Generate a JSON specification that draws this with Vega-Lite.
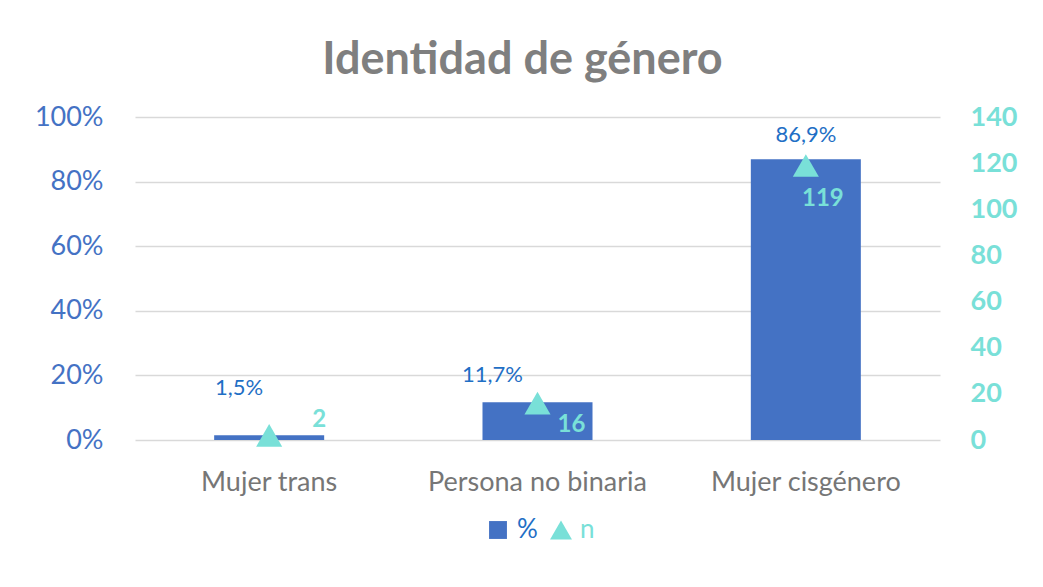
{
  "$schema": "https://vega.github.io/schema/vega-lite/v6.json",
  "width": 805,
  "height": 323,
  "autosize": {"type": "none"},
  "padding": {"left": 135, "top": 117, "right": 103, "bottom": 147},
  "background": "white",
  "title": {
    "text": "Identidad de género",
    "fontSize": 45,
    "font": "Lato",
    "fontWeight": "bold",
    "color": "#7F7F7F",
    "offset": 20,
    "dx": -15
  },
  "config": {
    "locale": {"number": {"decimal": ",", "thousands": ".", "grouping": [3], "currency": ["", " €"]}},
    "view": {"stroke": null},
    "font": "Lato"
  },
  "data": {
    "values": [
      {"cat": "Mujer trans", "pct": 0.015, "n": 2},
      {"cat": "Persona no binaria", "pct": 0.117, "n": 16},
      {"cat": "Mujer cisgénero", "pct": 0.869, "n": 119}
    ]
  },
  "encoding": {
    "x": {
      "field": "cat",
      "type": "nominal",
      "sort": null,
      "scale": {"paddingInner": 0.59, "paddingOuter": 0.295},
      "axis": {
        "title": null,
        "labelAngle": 0,
        "labelFontSize": 27,
        "labelColor": "#767676",
        "labelPadding": 29,
        "labelLimit": 400,
        "ticks": false,
        "domain": false
      }
    }
  },
  "layer": [
    {
      "encoding": {
        "y": {
          "field": "pct",
          "type": "quantitative",
          "scale": {"domain": [0, 1]},
          "axis": {
            "title": null,
            "values": [0, 0.2, 0.4, 0.6, 0.8, 1],
            "format": ".0%",
            "labelFontSize": 27,
            "labelColor": "#4472C4",
            "labelPadding": 32,
            "ticks": false,
            "domain": false,
            "grid": true,
            "gridColor": "#D9D9D9",
            "gridWidth": 1.5
          }
        }
      },
      "layer": [
        {
          "mark": {"type": "bar", "color": "#4472C4"},
          "encoding": {
            "color": {
              "datum": "%",
              "scale": {"domain": ["%", "n"], "range": ["#4472C4", "#79E0D8"]},
              "legend": {
                "title": null,
                "orient": "none",
                "direction": "horizontal",
                "legendX": 350,
                "legendY": 400,
                "labelFontSize": 26,
                "symbolSize": 320,
                "symbolType": "square",
                "columnPadding": 10,
                "labelOffset": 6,
                "encode": {
                  "labels": {"update": {"fill": {"signal": "datum.value === '%' ? '#1F6FC5' : '#79E0D8'"}}},
                  "symbols": {"update": {
                    "shape": {"signal": "datum.value === '%' ? 'square' : 'triangle-up'"},
                    "size": {"signal": "datum.value === '%' ? 320 : 480"}
                  }}
                }
              }
            }
          }
        },
        {
          "transform": [{"filter": "datum.cat === 'Mujer trans'"}],
          "mark": {"type": "text", "fontSize": 22, "color": "#1F6FC5", "baseline": "middle", "dx": -30, "dy": -47},
          "encoding": {"text": {"field": "pct", "type": "quantitative", "format": ".1%"}}
        },
        {
          "transform": [{"filter": "datum.cat === 'Persona no binaria'"}],
          "mark": {"type": "text", "fontSize": 22, "color": "#1F6FC5", "baseline": "middle", "dx": -45, "dy": -27},
          "encoding": {"text": {"field": "pct", "type": "quantitative", "format": ".1%"}}
        },
        {
          "transform": [{"filter": "datum.cat === 'Mujer cisgénero'"}],
          "mark": {"type": "text", "fontSize": 22, "color": "#1F6FC5", "baseline": "middle", "dx": 0, "dy": -24},
          "encoding": {"text": {"field": "pct", "type": "quantitative", "format": ".1%"}}
        }
      ]
    },
    {
      "encoding": {
        "y": {
          "field": "n",
          "type": "quantitative",
          "scale": {"domain": [0, 140]},
          "axis": {
            "orient": "right",
            "title": null,
            "values": [0, 20, 40, 60, 80, 100, 120, 140],
            "labelFontSize": 27,
            "labelFontWeight": "bold",
            "labelColor": "#79E0D8",
            "labelPadding": 30,
            "ticks": false,
            "domain": false,
            "grid": false
          }
        }
      },
      "layer": [
        {
          "mark": {"type": "point", "shape": "triangle-up", "filled": true, "opacity": 1, "size": 680},
          "encoding": {"color": {"datum": "n"}}
        },
        {
          "transform": [{"filter": "datum.cat === 'Mujer trans'"}],
          "mark": {"type": "text", "fontSize": 24, "fontWeight": "bold", "color": "#79E0D8", "baseline": "middle", "dx": 50, "dy": -15},
          "encoding": {"text": {"field": "n", "type": "quantitative"}}
        },
        {
          "transform": [{"filter": "datum.cat === 'Persona no binaria'"}],
          "mark": {"type": "text", "fontSize": 24, "fontWeight": "bold", "color": "#79E0D8", "baseline": "middle", "dx": 34, "dy": 22},
          "encoding": {"text": {"field": "n", "type": "quantitative"}}
        },
        {
          "transform": [{"filter": "datum.cat === 'Mujer cisgénero'"}],
          "mark": {"type": "text", "fontSize": 24, "fontWeight": "bold", "color": "#79E0D8", "baseline": "middle", "dx": 17, "dy": 34},
          "encoding": {"text": {"field": "n", "type": "quantitative"}}
        }
      ]
    }
  ],
  "resolve": {"scale": {"y": "independent"}}
}
